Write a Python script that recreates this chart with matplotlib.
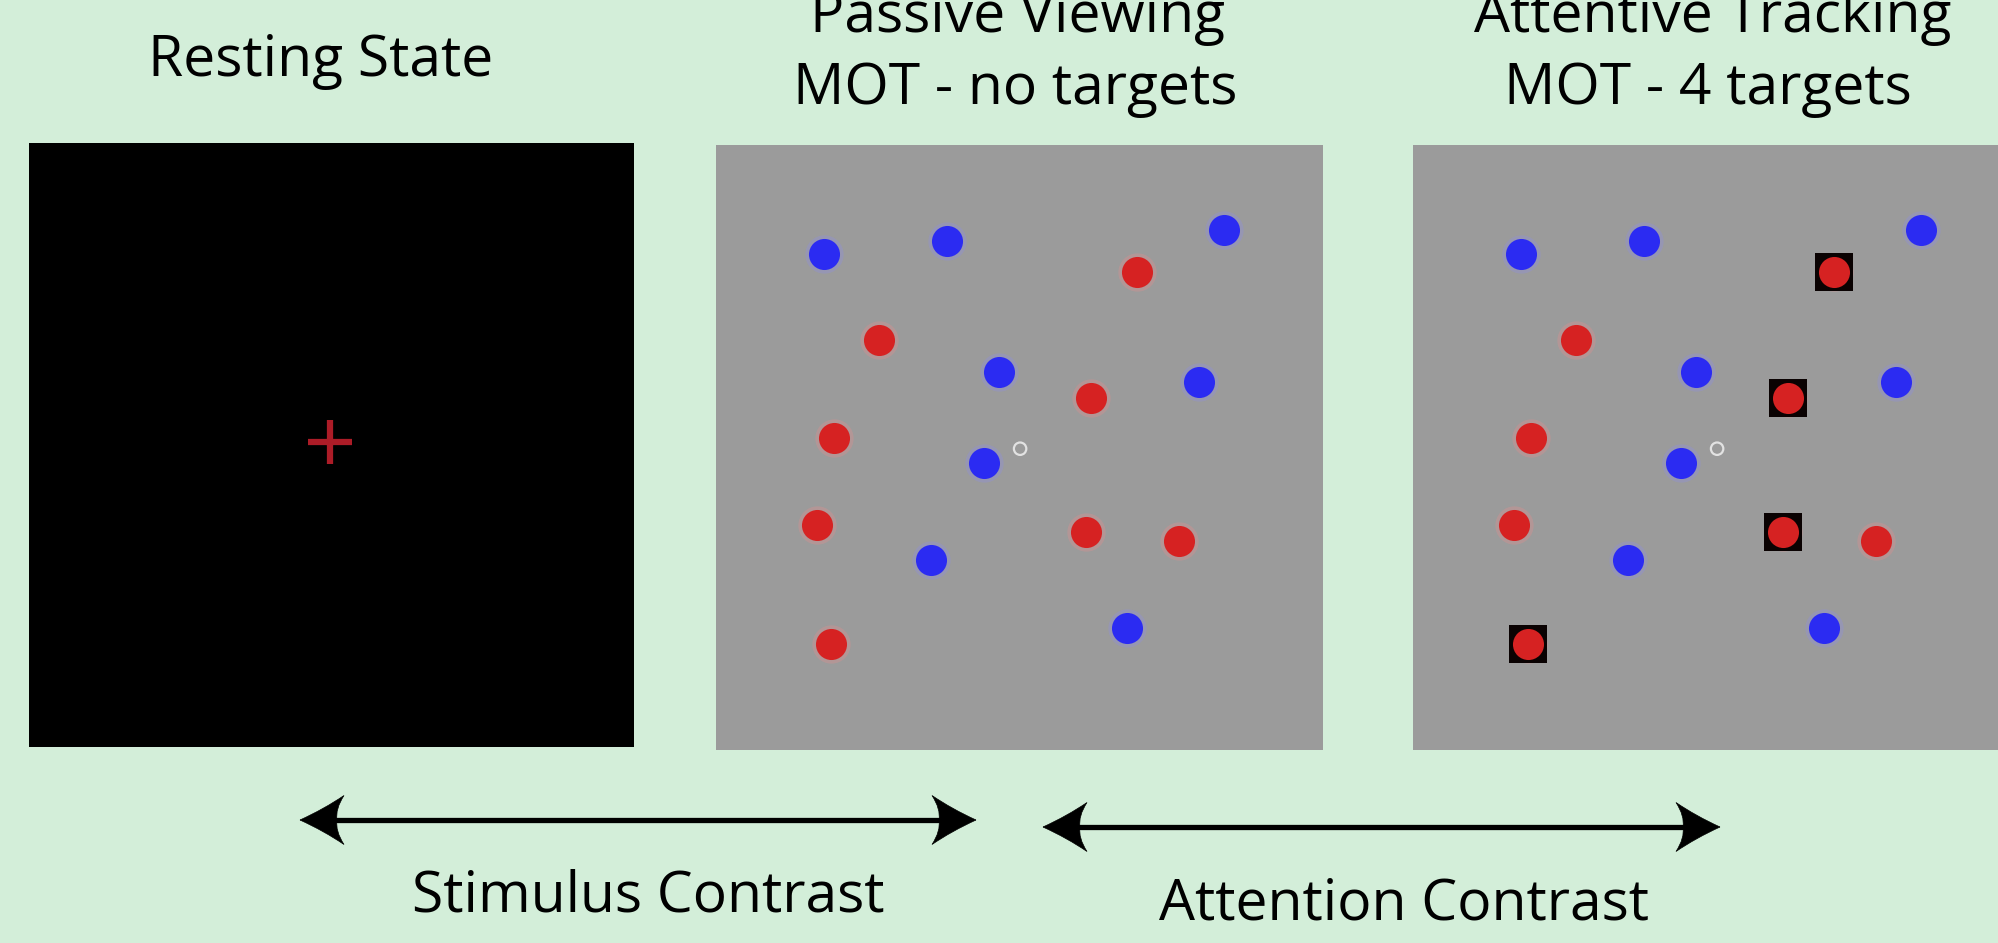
import numpy as np
import matplotlib
matplotlib.use("Agg")
import matplotlib.pyplot as plt
from matplotlib.path import Path
from matplotlib.patches import PathPatch

# dot positions inside a display (fraction of width / height, y measured from top)
blue_x = [0.178, 0.381, 0.837, 0.466, 0.795, 0.442, 0.354, 0.677]
blue_y = [0.180, 0.158, 0.140, 0.376, 0.392, 0.526, 0.686, 0.798]
red_x = [0.694, 0.269, 0.618, 0.195, 0.166, 0.610, 0.762, 0.190]
red_y = [0.210, 0.322, 0.418, 0.485, 0.628, 0.639, 0.654, 0.824]
target_idx = [0, 2, 5, 7]          # red dots that are targets in the tracking display
fix_x, fix_y = 0.501, 0.502

title_lines = [["Resting State"],
               ["Passive Viewing", "MOT - no targets"],
               ["Attentive Tracking", "MOT - 4 targets"]]
contrast_labels = ["Stimulus Contrast", "Attention Contrast"]

W, H = 1999, 943
BG = "#d3eed9"
GRAY = "#9b9b9b"
BLUE = "#2b2bf2"
RED = "#d62222"

plt.rcParams["font.family"] = ["Open Sans", "DejaVu Sans"]

fig = plt.figure(figsize=(W / 100, H / 100), dpi=100, facecolor=BG)


def px_axes(x0, y0, x1, y1):
    # axes placed by pixel box (y from top)
    return fig.add_axes([x0 / W, 1 - y1 / H, (x1 - x0) / W, (y1 - y0) / H])


def setup(ax, color):
    ax.set_xlim(0, 1)
    ax.set_ylim(1, 0)
    ax.set_facecolor(color)
    ax.set_xticks([])
    ax.set_yticks([])
    for s in ax.spines.values():
        s.set_visible(False)


# resting state: black screen with red fixation cross
ax1 = px_axes(29, 143, 634, 747)
setup(ax1, "black")
ax1.plot([0.497], [0.495], marker="+", ms=32, mew=4.5, color="#c0202c", alpha=0.9)


def mot(ax, targets):
    setup(ax, GRAY)
    ax.scatter(blue_x, blue_y, s=760, color="#8f8fe0", alpha=0.35, lw=0)
    ax.scatter(red_x, red_y, s=760, color="#e08f8f", alpha=0.35, lw=0)
    if targets:
        ax.scatter([red_x[i] for i in target_idx], [red_y[i] for i in target_idx],
                   s=760, marker="s", color="#0a0202", lw=0)
    ax.scatter(blue_x, blue_y, s=500, color=BLUE, lw=0)
    ax.scatter(red_x, red_y, s=500, color=RED, lw=0)
    ax.scatter([fix_x], [fix_y], s=80, facecolor="none", edgecolor="#e2e2e2", lw=1.6)


ax2 = px_axes(716, 145, 1323, 750)
mot(ax2, False)
ax3 = px_axes(1413, 145, 2020, 750)
mot(ax3, True)

# titles
fs = 41
fig.text(321 / W, 1 - 76 / H, title_lines[0][0], ha="center", va="baseline", fontsize=fs)
fig.text(1018 / W, 1 - 32 / H, title_lines[1][0], ha="center", va="baseline", fontsize=fs)
fig.text(1015 / W, 1 - 104 / H, title_lines[1][1], ha="center", va="baseline", fontsize=fs)
fig.text(1713 / W, 1 - 32 / H, title_lines[2][0], ha="center", va="baseline", fontsize=fs)
fig.text(1708 / W, 1 - 104 / H, title_lines[2][1], ha="center", va="baseline", fontsize=fs)

# contrast arrows
ov = fig.add_axes([0, 0, 1, 1], facecolor="none")
ov.set_xlim(0, W)
ov.set_ylim(H, 0)
ov.axis("off")


def head(x, y, d, L=44, h=24.5):
    # filled arrow head, slightly concave sides, notched back; tip at (x, y)
    pts = [(0, 0), (0.55 * L, -0.45 * h), (L, -h), (0.8 * L, -0.45 * h), (0.84 * L, 0),
           (0.8 * L, 0.45 * h), (L, h), (0.55 * L, 0.45 * h), (0, 0)]
    codes = [Path.MOVETO, Path.CURVE3, Path.CURVE3, Path.CURVE3, Path.CURVE3,
             Path.CURVE3, Path.CURVE3, Path.CURVE3, Path.CURVE3]
    verts = [(x + d * px, y + py) for px, py in pts]
    ov.add_patch(PathPatch(Path(verts, codes), facecolor="black", edgecolor="black", lw=0.5))


def double_arrow(x0, x1, y):
    ov.plot([x0 + 30, x1 - 30], [y, y], color="black", lw=3.8, solid_capstyle="butt")
    head(x0, y, 1)
    head(x1, y, -1)


double_arrow(300, 976, 820)
double_arrow(1043, 1720, 827)

fig.text(648 / W, 1 - 912 / H, contrast_labels[0], ha="center", va="baseline", fontsize=fs)
fig.text(1404 / W, 1 - 919 / H, contrast_labels[1], ha="center", va="baseline", fontsize=fs)

fig.savefig("out.png", dpi=100, facecolor=BG)
